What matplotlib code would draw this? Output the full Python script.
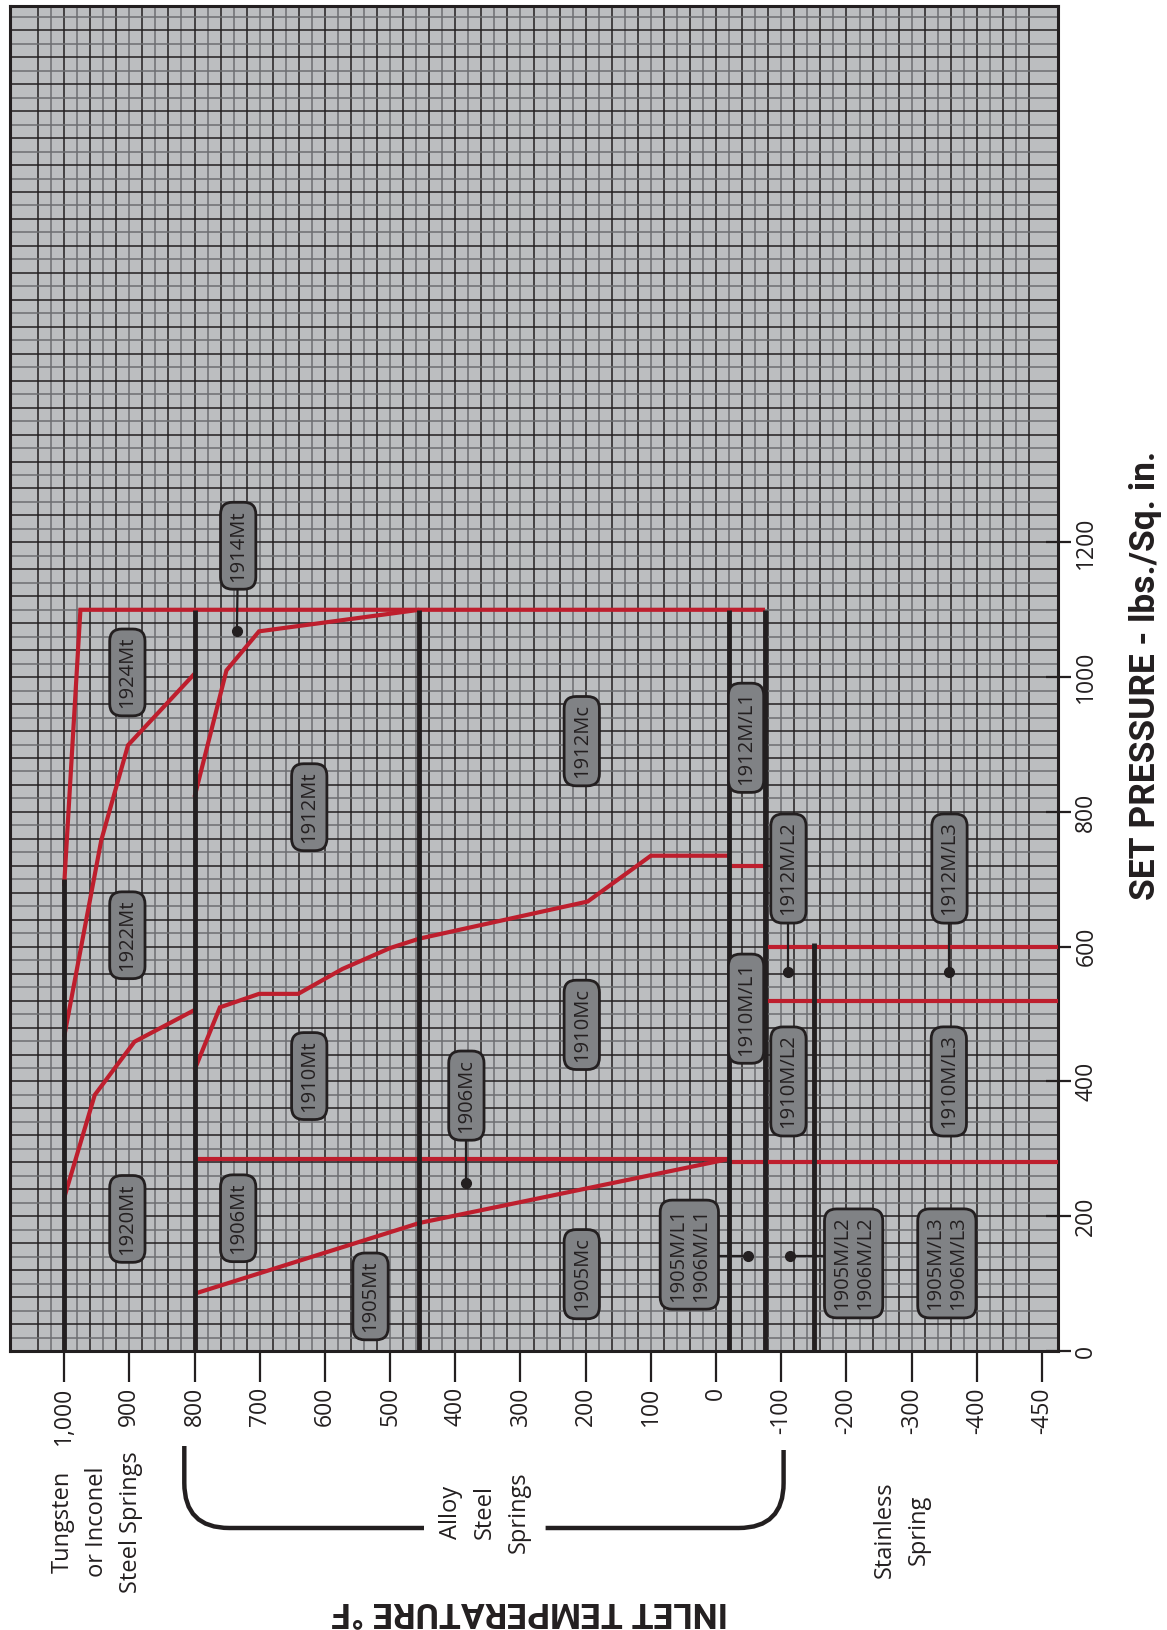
import matplotlib
matplotlib.use("Agg")
import matplotlib.pyplot as plt
from matplotlib.path import Path
from matplotlib.patches import PathPatch

plt.rcParams["font.family"] = ["Open Sans", "DejaVu Sans"]

# ---------------- data ----------------
temp_tick_pos = [1000, 900, 800, 700, 600, 500, 400, 300, 200, 100, 0,
                 -100, -200, -300, -400, -500]
temp_tick_labels = ["1,000", "900", "800", "700", "600", "500", "400", "300",
                    "200", "100", "0", "-100", "-200", "-300", "-400", "-450"]
pressure_ticks = [0, 200, 400, 600, 800, 1000, 1200]

# thick black temperature boundaries and their max pressure
boundary_temps = [1000, 800, 455, -20, -75, -150]
boundary_pmax = [700, 1100, 1100, 1100, 1100, 605]

T_LEFT, T_RIGHT = 1083, -524
P_TOP = 1996

# red limit curves (temperature, pressure)
envelope_T = [1000, 975, -75]
envelope_P = [690, 1100, 1100]
c1922_T = [1000, 943, 902, 800]
c1922_P = [466, 758, 899, 1005]
c1920_T = [1000, 953, 892, 800]
c1920_P = [227, 380, 459, 506]
c1912_T = [800, 751, 701, 455]
c1912_P = [822, 1010, 1068, 1100]
c1910_T = [800, 761, 701, 641, 573, 500, 455, 197, 100, -20]
c1910_P = [417, 510, 530, 530, 567, 598, 612, 667, 735, 735]
cL1_T = [-20, -75]
cL1_P = [720, 720]
c1905_T = [800, 455, -20]
c1905_P = [85, 190, 285]
h1906_T = [800, -20]
h1906_P = [285, 285]
hL_T = [-20, T_RIGHT]
hL_P = [280, 280]
h600_T = [-75, T_RIGHT]
h600_P = [600, 600]
h520_T = [-75, T_RIGHT]
h520_P = [520, 520]

red_curves = [(envelope_T, envelope_P), (c1922_T, c1922_P), (c1920_T, c1920_P),
              (c1912_T, c1912_P), (c1910_T, c1910_P), (cL1_T, cL1_P),
              (c1905_T, c1905_P), (h1906_T, h1906_P), (hL_T, hL_P),
              (h600_T, h600_P), (h520_T, h520_P)]

# model labels
label_text = ["1920Mt", "1922Mt", "1924Mt", "1914Mt", "1912Mt", "1910Mt",
              "1906Mt", "1905Mt", "1906Mc", "1912Mc", "1910Mc", "1905Mc",
              "1912M/L1", "1910M/L1", "1905M/L1\n1906M/L1",
              "1912M/L2", "1910M/L2", "1905M/L2\n1906M/L2",
              "1912M/L3", "1910M/L3", "1905M/L3\n1906M/L3"]
label_T = [903, 903, 903, 733, 624, 624, 733, 530, 383, 206, 206, 206,
           -46, -46, 41, -111, -111, -211, -358, -357, -354]
label_P = [196, 617, 1007, 1195, 807, 408, 197, 81, 379, 905, 484, 114,
           910, 508, 143, 716, 400, 130, 716, 400, 130]

# leader lines: from (label) to dot
leader_from_T = [733, 383, -111, -358, 41, -211]
leader_from_P = [1195, 379, 716, 716, 141, 141]
leader_dot_T = [735, 383, -111, -358, -49, -114]
leader_dot_P = [1068, 250, 563, 563, 141, 141]

# ---------------- styling ----------------
W, H = 1167, 1630
DARK = "#231f20"
GRAY = "#6d6e71"
RED = "#be1e2d"
BG = "#bcbec0"
BOX = "#808285"

fig = plt.figure(figsize=(W / 100, H / 100), dpi=100)
fig.patch.set_facecolor("white")

ax = fig.add_axes([10 / W, 1 - 1351 / H, 1047.7 / W, 1345 / H])
ax.set_xlim(T_LEFT, T_RIGHT)
ax.set_ylim(0, P_TOP)
ax.set_facecolor(BG)

for t in range(-480, 1041, 20):
    ax.axvline(t, color=DARK if (t // 20) % 2 == 0 else GRAY, lw=1.1, zorder=1)
for p in range(20, 1990, 20):
    ax.axhline(p, color=DARK if (p // 20) % 2 == 0 else GRAY, lw=1.1, zorder=1)

for xs, ys in red_curves:
    ax.plot(xs, ys, color=RED, lw=3.0, zorder=3, solid_capstyle="butt",
            solid_joinstyle="miter")

for t, pm in zip(boundary_temps, boundary_pmax):
    ax.plot([t, t], [0, pm], color=DARK, lw=3.5, zorder=4, solid_capstyle="butt")

for ft, fp, dt, dp in zip(leader_from_T, leader_from_P, leader_dot_T, leader_dot_P):
    ax.plot([ft, dt], [fp, dp], color=DARK, lw=1.6, zorder=5)
    ax.plot([dt], [dp], "o", color=DARK, ms=7, zorder=5)

for s, t, p in zip(label_text, label_T, label_P):
    ax.text(t, p, s, rotation=90, ha="center", va="center", rotation_mode="anchor",
            fontsize=14.5, color=DARK, multialignment="center", linespacing=1.2,
            zorder=6,
            bbox=dict(boxstyle="round,pad=0.38,rounding_size=0.6", fc=BOX,
                      ec=DARK, lw=2))

ax.set_xticks(temp_tick_pos)
ax.set_xticklabels(temp_tick_labels, rotation=90)
ax.tick_params(axis="x", direction="out", length=22, width=1.6, pad=4,
               labelsize=16.5, colors=DARK)
ax.yaxis.tick_right()
ax.set_yticks(pressure_ticks)
ax.set_yticklabels([str(p) for p in pressure_ticks], rotation=90, va="center")
ax.tick_params(axis="y", direction="inout", length=18, width=1.6, pad=3,
               labelsize=16.5, colors=DARK)
for sp in ax.spines.values():
    sp.set_color(DARK)
    sp.set_linewidth(2.2)

# ---------------- overlay (pixel coordinates) ----------------
ov = fig.add_axes([0, 0, 1, 1])
ov.set_xlim(0, W)
ov.set_ylim(H, 0)
ov.set_axis_off()

left_br = Path([(184.3, 1446), (184.3, 1483), (184.3, 1528), (229.3, 1528), (424, 1528)],
               [Path.MOVETO, Path.LINETO, Path.CURVE3, Path.CURVE3, Path.LINETO])
right_br = Path([(545.6, 1528), (738.6, 1528), (783.6, 1528), (783.6, 1483), (783.6, 1450)],
                [Path.MOVETO, Path.LINETO, Path.CURVE3, Path.CURVE3, Path.LINETO])
for pth in (left_br, right_br):
    ov.add_patch(PathPatch(pth, fill=False, ec=DARK, lw=3.2, capstyle="butt"))

ov.text(97, 1522, "Tungsten\nor Inconel\nSteel Springs", rotation=90, ha="center",
        va="center", multialignment="center", fontsize=17, color=DARK, linespacing=1.55)
ov.text(485, 1512, "Alloy\nSteel\nSprings", rotation=90, ha="center",
        va="center", multialignment="center", fontsize=17, color=DARK, linespacing=1.55)
ov.text(902, 1530, "Stainless\nSpring", rotation=90, ha="center",
        va="center", multialignment="center", fontsize=17, color=DARK, linespacing=1.55)

ov.text(530, 1611, "INLET TEMPERATURE °F", rotation=180, ha="center", va="center",
        fontsize=25.5, fontweight="bold", color=DARK, family=["Roboto", "DejaVu Sans"])
ov.text(1146, 675, "SET PRESSURE - lbs./Sq. in.", rotation=90, ha="center", va="center",
        fontsize=25.5, fontweight="bold", color=DARK, family=["Roboto", "DejaVu Sans"])

fig.savefig("out.png", dpi=100)
